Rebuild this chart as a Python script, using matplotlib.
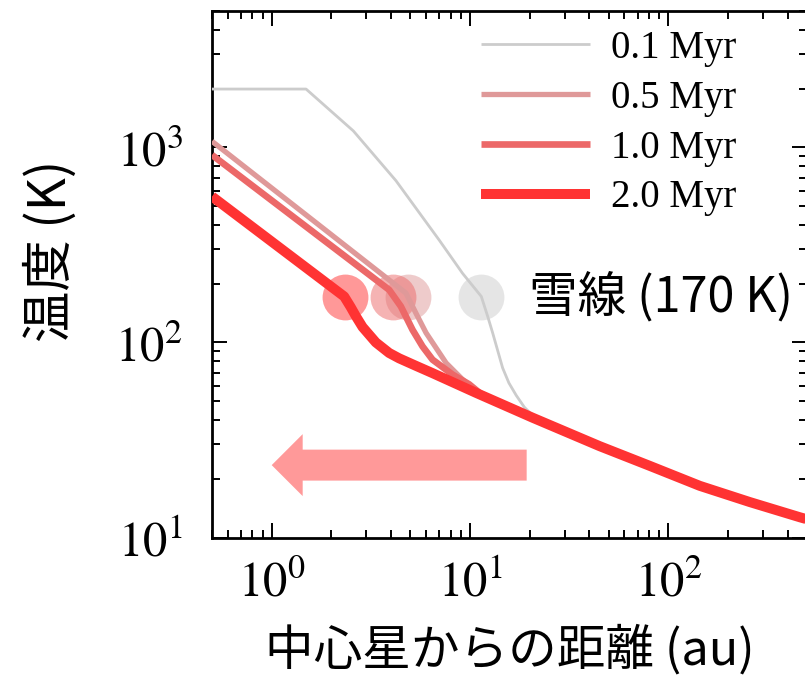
import numpy as np
import matplotlib
matplotlib.use("Agg")
import matplotlib.pyplot as plt
from matplotlib.patches import FancyArrowPatch
from matplotlib.ticker import FixedLocator, FuncFormatter, LogLocator, NullFormatter

plt.rcParams['font.family'] = ['Noto Sans CJK JP', 'DejaVu Sans']
plt.rcParams['mathtext.fontset'] = 'stix'

# outer disk part shared by all profiles (au, K)
r_out = [45, 80.5, 144, 257, 460, 500]
T_out = [29.4, 23.3, 18.4, 15.2, 12.7, 12.4]

# temperature profiles (au, K)
r_01 = [0.5, 1.49, 2.58, 4.23, 7.0, 9.17, 11.4, 12.3, 13.0, 14.6, 15.7, 17.1, 18.8, 20.7, 24] + r_out
T_01 = [1990, 1990, 1214, 675, 334, 226, 172, 135, 112, 74, 62, 53.5, 46.5, 42.2, 38.6] + T_out

r_05 = [0.5, 4.75, 5.34, 6.0, 7.57, 9.18, 10.7, 20.7] + r_out
T_05 = [1074, 179, 141, 112, 78.5, 64.5, 56.5, 41.1] + T_out

r_10 = [0.5, 3.91, 4.48, 5.13, 5.76, 6.47, 8.17, 9.9, 11.5, 20.7] + r_out
T_10 = [914, 186, 153, 116, 95.4, 81.6, 68.4, 61.0, 53.8, 41.1] + T_out

r_20 = [0.5, 2.32, 2.5, 2.66, 2.87, 3.35, 3.91, 4.39, 5.3, 6.47, 10.7, 20.7] + r_out
T_20 = [560, 172, 152, 136, 120, 100, 88.3, 82.9, 76.1, 69.6, 55.2, 41.1] + T_out

labels = ['0.1 Myr', '0.5 Myr', '1.0 Myr', '2.0 Myr']
colors = ['#cccccc', '#df9999', '#ec6868', '#ff3333']
widths = [2.0, 3.8, 4.8, 7.2]

# snow line (170 K) positions
snow_r = [11.4, 4.84, 4.1, 2.34]
snow_T = 170

# inward migration arrow (data coords)
arrow_tail = (19.3, 23.5)
arrow_tip = (1.0, 23.5)

fig = plt.figure(figsize=(8.05, 6.78), dpi=100)
ax = fig.add_axes([212/805, 140.5/678, 595/805, 526.5/678])
ax.set_xscale('log')
ax.set_yscale('log')

for r, T, lab, c, w in zip([r_01, r_05, r_10, r_20], [T_01, T_05, T_10, T_20], labels, colors, widths):
    ax.plot(r, T, color=c, lw=w, label=lab, zorder=3, solid_capstyle='butt', solid_joinstyle='round')

for x, c in zip(snow_r, colors):
    ax.plot(x, snow_T, 'o', ms=33, color=c, alpha=0.5, mec='none', zorder=2)

ax.text(19.9, snow_T, '雪線 (170 K)', fontsize=35, va='center', ha='left')

arr = FancyArrowPatch(arrow_tail, arrow_tip, arrowstyle='simple,head_length=1,head_width=2,tail_width=1',
                      mutation_scale=22.3, color='#ff9999', lw=0, zorder=2, shrinkA=0, shrinkB=0)
ax.add_patch(arr)

ax.set_xlim(0.5, 500)
ax.set_ylim(10, 5000)

fmt = FuncFormatter(lambda v, p: r'$10^{%d}$' % round(np.log10(v)))
ax.xaxis.set_major_locator(FixedLocator([1, 10, 100]))
ax.yaxis.set_major_locator(FixedLocator([10, 100, 1000]))
ax.xaxis.set_major_formatter(fmt)
ax.yaxis.set_major_formatter(fmt)
ax.xaxis.set_minor_locator(LogLocator(base=10, subs=np.arange(2, 10), numticks=20))
ax.yaxis.set_minor_locator(LogLocator(base=10, subs=np.arange(2, 10), numticks=20))
ax.xaxis.set_minor_formatter(NullFormatter())
ax.yaxis.set_minor_formatter(NullFormatter())

ax.tick_params(which='both', direction='in', top=True, right=True, width=1.4, labelsize=35)
ax.tick_params(which='major', length=10.8)
ax.tick_params(axis='x', which='major', pad=15)
ax.tick_params(axis='y', which='major', pad=21)
ax.tick_params(which='minor', length=5.5)
for s in ax.spines.values():
    s.set_linewidth(2)

ax.set_xlabel('中心星からの距離 (au)', fontsize=35)
ax.set_ylabel('温度 (K)', fontsize=37)
ax.xaxis.set_label_coords(0.5, -0.165)
ax.yaxis.set_label_coords(-0.225, 0.545)

leg = ax.legend(loc='upper left', bbox_to_anchor=(481/805, 1 - 30/678), bbox_transform=fig.transFigure,
                frameon=False, borderpad=0, borderaxespad=0, handlelength=2.8, handletextpad=0.55,
                labelspacing=0.33, prop={'family': 'Liberation Serif', 'size': 28})

fig.savefig('out.png', dpi=100)
